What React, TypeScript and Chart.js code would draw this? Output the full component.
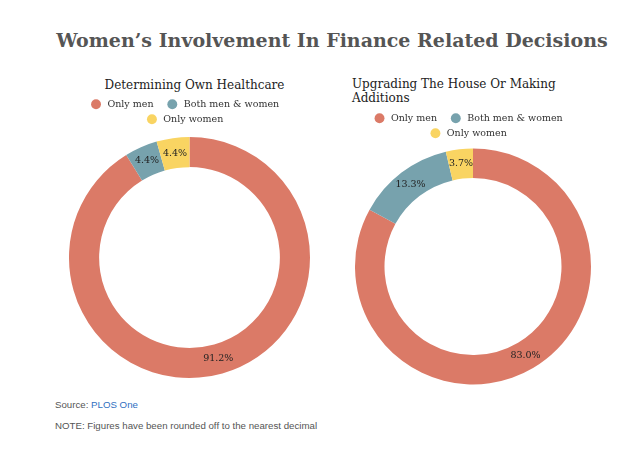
import React, { useEffect, useRef } from "react";
import { Chart, registerables } from "chart.js";

Chart.register(...registerables);

const categories = ["Only men", "Both men & women", "Only women"];
const healthcareValues = [91.2, 4.4, 4.4];
const houseValues = [83.0, 13.3, 3.7];
const sliceColors = ["#db7a67", "#77a2ad", "#f9d462"];
const mainTitle = "Women\u2019s Involvement In Finance Related Decisions";
const healthcareTitle = "Determining Own Healthcare";
const houseTitleLines = ["Upgrading The House Or Making", "Additions"];
const sourceName = "PLOS One";
const noteText = "NOTE: Figures have been rounded off to the nearest decimal";

const SERIF = "'DejaVu Serif', Georgia, serif";
const SANS = "'Liberation Sans', Arial, sans-serif";

const pctLabels = {
  id: "pctLabels",
  afterDatasetsDraw(chart: any) {
    const ctx = chart.ctx;
    const meta = chart.getDatasetMeta(0);
    const data = chart.data.datasets[0].data as number[];
    ctx.save();
    ctx.font = "9.5px 'DejaVu Serif'";
    ctx.fillStyle = "#222";
    ctx.textAlign = "center";
    ctx.textBaseline = "middle";
    meta.data.forEach((arc: any, i: number) => {
      const p = arc.tooltipPosition();
      ctx.fillText(Number(data[i]).toFixed(1) + "%", p.x, p.y);
    });
    ctx.restore();
  },
};

function Donut(props: { values: number[]; left: number; top: number; width: number; height: number }) {
  const ref = useRef<HTMLCanvasElement>(null);
  useEffect(() => {
    if (!ref.current) return;
    const chart = new Chart(ref.current, {
      type: "doughnut",
      data: {
        labels: categories,
        datasets: [
          {
            data: props.values,
            backgroundColor: sliceColors,
            borderWidth: 0,
            hoverOffset: 0,
          },
        ],
      },
      options: {
        responsive: false,
        maintainAspectRatio: false,
        animation: false,
        events: [],
        cutout: "75%",
        layout: { padding: 0 },
        plugins: {
          tooltip: { enabled: false },
          title: { display: false },
          legend: {
            display: true,
            position: "top",
            labels: {
              usePointStyle: true,
              pointStyle: "circle",
              boxWidth: 10,
              boxHeight: 7,
              padding: 5.5,
              color: "#333",
              font: { family: "'DejaVu Serif'", size: 9.5 },
              generateLabels: (c: any) => {
                const base = (Chart as any).overrides.doughnut.plugins.legend.labels.generateLabels(c);
                return base.map((it: any) => ({
                  ...it,
                  text: "\u2009" + it.text + "\u2002\u2009\u2009",
                  lineWidth: 0,
                }));
              },
            },
          },
        },
      } as any,
      plugins: [pctLabels],
    });
    return () => chart.destroy();
  }, []);
  return (
    <canvas
      ref={ref}
      width={props.width}
      height={props.height}
      style={{ position: "absolute", left: props.left, top: props.top, width: props.width, height: props.height }}
    />
  );
}

export default function App() {
  return (
    <div style={{ position: "absolute", left: 0, top: 0, width: 640, height: 453, background: "#fff", overflow: "hidden" }}>
      <div
        style={{
          position: "absolute",
          left: 0,
          width: 664,
          top: 26,
          lineHeight: "28px",
          textAlign: "center",
          fontFamily: SERIF,
          fontWeight: "bold",
          fontSize: 19,
          color: "#555",
          whiteSpace: "nowrap",
        }}
      >
        {mainTitle}
      </div>
      <div
        style={{
          position: "absolute",
          left: 64,
          width: 261,
          top: 77,
          lineHeight: "16px",
          textAlign: "center",
          fontFamily: SERIF,
          fontSize: 12,
          color: "#222",
          whiteSpace: "nowrap",
        }}
      >
        {healthcareTitle}
      </div>
      <div
        style={{
          position: "absolute",
          left: 352,
          top: 78,
          lineHeight: "13.5px",
          textAlign: "left",
          fontFamily: SERIF,
          fontSize: 12,
          color: "#222",
          whiteSpace: "nowrap",
        }}
      >
        {houseTitleLines.map((l, i) => (
          <div key={i}>{l}</div>
        ))}
      </div>
      <Donut values={healthcareValues} left={69} top={94} width={241} height={287} />
      <Donut values={houseValues} left={355} top={108} width={236} height={277} />
      <div
        style={{
          position: "absolute",
          left: 55,
          top: 398,
          lineHeight: "14px",
          fontFamily: SANS,
          fontSize: 9.7,
          color: "#555",
          whiteSpace: "nowrap",
        }}
      >
        Source: <span style={{ color: "#2f6fbf" }}>{sourceName}</span>
      </div>
      <div
        style={{
          position: "absolute",
          left: 55,
          top: 419,
          lineHeight: "14px",
          fontFamily: SANS,
          fontSize: 9.7,
          color: "#555",
          whiteSpace: "nowrap",
        }}
      >
        {noteText}
      </div>
    </div>
  );
}
